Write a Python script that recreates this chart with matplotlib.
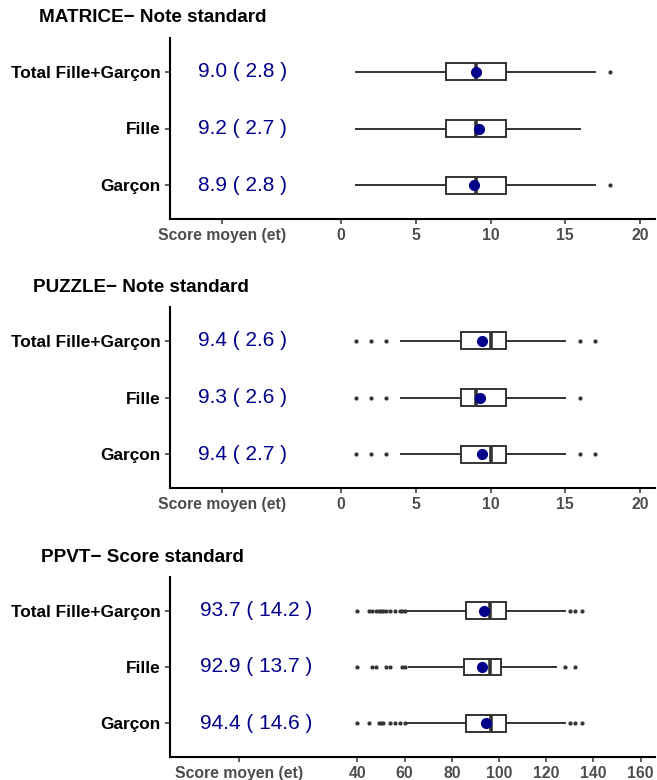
import matplotlib
matplotlib.use("Agg")
import matplotlib.pyplot as plt

plt.rcParams["font.family"] = ["Liberation Sans", "DejaVu Sans"]

groups = ["Total Fille+Garçon", "Fille", "Garçon"]
positions = [3, 2, 1]

# MATRICE - note standard
mat_q1 = [7, 7, 7]
mat_med = [9, 9, 9]
mat_q3 = [11, 11, 11]
mat_lo = [1, 1, 1]
mat_hi = [17, 16, 17]
mat_out = [[18], [], [18]]
mat_mean = [9.0, 9.2, 8.9]
mat_sd = [2.8, 2.7, 2.8]

# PUZZLE - note standard
puz_q1 = [8, 8, 8]
puz_med = [10, 9, 10]
puz_q3 = [11, 11, 11]
puz_lo = [4, 4, 4]
puz_hi = [15, 15, 15]
puz_out = [[1, 2, 3, 16, 17], [1, 2, 3, 16], [1, 2, 3, 16, 17]]
puz_mean = [9.4, 9.3, 9.4]
puz_sd = [2.6, 2.6, 2.7]

# PPVT - score standard
ppvt_q1 = [86, 85, 86]
ppvt_med = [96, 96, 96.5]
ppvt_q3 = [103, 101, 103]
ppvt_lo = [61, 62, 61]
ppvt_hi = [128, 124, 128]
ppvt_out = [[40, 45, 46, 48, 49, 50, 51, 52, 54, 56, 58, 59, 60, 130, 132, 135],
            [40, 46, 48, 52, 54, 59, 60, 128, 132],
            [40, 45, 49, 50, 51, 54, 56, 58, 60, 130, 132, 135]]
ppvt_mean = [93.7, 92.9, 94.4]
ppvt_sd = [14.2, 13.7, 14.6]

mat_ticks = [0, 5, 10, 15, 20]
ppvt_ticks = [40, 60, 80, 100, 120, 140, 160]
xlabel = "Score moyen (et)"

DARK = "#333333"
BLUE = "#00008B"


def draw_panel(ax, q1, med, q3, lo, hi, out, means, sds, ticks, label_x, text_x, xlim):
    stats = []
    for i in range(len(groups)):
        stats.append(dict(q1=q1[i], med=med[i], q3=q3[i], whislo=lo[i], whishi=hi[i],
                          fliers=out[i], mean=means[i]))
    ax.bxp(stats, positions=positions, widths=0.3, orientation="horizontal",
           patch_artist=True, showcaps=False, showmeans=True,
           boxprops=dict(facecolor="white", edgecolor=DARK, linewidth=1.4),
           whiskerprops=dict(color=DARK, linewidth=1.4),
           medianprops=dict(color=DARK, linewidth=2.6),
           flierprops=dict(marker="o", markersize=2, markerfacecolor=DARK,
                           markeredgecolor=DARK, linestyle="none"),
           meanprops=dict(marker="o", markersize=7, markerfacecolor=BLUE,
                          markeredgecolor=BLUE))
    for i, p in enumerate(positions):
        ax.text(text_x, p, "{:.1f} ( {:.1f} )".format(means[i], sds[i]),
                ha="left", va="center", fontsize=15, color=BLUE)
    ax.set_xlim(xlim)
    ax.set_ylim(0.4, 3.6)
    ax.set_yticks(positions)
    ax.set_yticklabels(groups, fontweight="bold", fontsize=12.4, color="black")
    ax.set_xticks([label_x] + ticks)
    ax.set_xticklabels([xlabel] + [str(t) for t in ticks], fontweight="bold",
                       fontsize=11.3, color="#4D4D4D")
    ax.tick_params(length=3.5, width=1.1, color=DARK, pad=3)
    for s in ["top", "right"]:
        ax.spines[s].set_visible(False)
    for s in ["left", "bottom"]:
        ax.spines[s].set_linewidth(1.5)
        ax.spines[s].set_color("black")


fig = plt.figure(figsize=(6.57, 7.8), dpi=100)
W, H = 657.0, 780.0


def add_panel(top, bottom):
    return fig.add_axes([170 / W, 1 - bottom / H, 485 / W, (bottom - top) / H])


ax1 = add_panel(38, 219)
draw_panel(ax1, mat_q1, mat_med, mat_q3, mat_lo, mat_hi, mat_out, mat_mean, mat_sd,
           mat_ticks, -8, -9.6, (-11.45, 21.0))
fig.text(39 / W, 1 - 18 / H, "MATRICE\u2212 Note standard", fontsize=13.6,
         fontweight="bold", va="center", ha="left")

ax2 = add_panel(307, 488)
draw_panel(ax2, puz_q1, puz_med, puz_q3, puz_lo, puz_hi, puz_out, puz_mean, puz_sd,
           mat_ticks, -8, -9.6, (-11.45, 21.0))
fig.text(33 / W, 1 - 288 / H, "PUZZLE\u2212 Note standard", fontsize=13.6,
         fontweight="bold", va="center", ha="left")

ax3 = add_panel(577, 757)
draw_panel(ax3, ppvt_q1, ppvt_med, ppvt_q3, ppvt_lo, ppvt_hi, ppvt_out, ppvt_mean, ppvt_sd,
           ppvt_ticks, -10, -26.7, (-39.4, 166.1))
fig.text(41 / W, 1 - 557 / H, "PPVT\u2212 Score standard", fontsize=13.6,
         fontweight="bold", va="center", ha="left")

fig.savefig("out.png", dpi=100)
